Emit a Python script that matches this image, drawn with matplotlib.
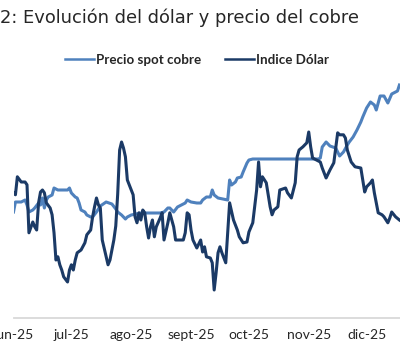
import matplotlib
matplotlib.use("Agg")
import matplotlib.pyplot as plt
import pandas as pd
from matplotlib.lines import Line2D

LIGHT, DARK = "#4F81BD", "#1B3A66"

# Indice Dolar (DXY)
dollar_dates = [
    "2025-06-01", "2025-06-02", "2025-06-03", "2025-06-05", "2025-06-07", "2025-06-08",
    "2025-06-09", "2025-06-11", "2025-06-12", "2025-06-13", "2025-06-14", "2025-06-15",
    "2025-06-16", "2025-06-17", "2025-06-18", "2025-06-20", "2025-06-21", "2025-06-22",
    "2025-06-23", "2025-06-24", "2025-06-25", "2025-06-26", "2025-06-27", "2025-06-29",
    "2025-06-30", "2025-07-01", "2025-07-02", "2025-07-03", "2025-07-04", "2025-07-06",
    "2025-07-08", "2025-07-09", "2025-07-11", "2025-07-12", "2025-07-13", "2025-07-14",
    "2025-07-15", "2025-07-16", "2025-07-17", "2025-07-19", "2025-07-20", "2025-07-21",
    "2025-07-23", "2025-07-24", "2025-07-25", "2025-07-26", "2025-07-27", "2025-07-28",
    "2025-07-29", "2025-07-30", "2025-08-01", "2025-08-02", "2025-08-03", "2025-08-04",
    "2025-08-05", "2025-08-06", "2025-08-07", "2025-08-08", "2025-08-09", "2025-08-10",
    "2025-08-11", "2025-08-12", "2025-08-13", "2025-08-14", "2025-08-16", "2025-08-17",
    "2025-08-18", "2025-08-20", "2025-08-21", "2025-08-23", "2025-08-24", "2025-08-28",
    "2025-08-29", "2025-08-30", "2025-08-31", "2025-09-01", "2025-09-02", "2025-09-04",
    "2025-09-06", "2025-09-07", "2025-09-08", "2025-09-09", "2025-09-11", "2025-09-12",
    "2025-09-13", "2025-09-14", "2025-09-15", "2025-09-16", "2025-09-17", "2025-09-19",
    "2025-09-21", "2025-09-23", "2025-09-25", "2025-09-26", "2025-09-28", "2025-09-30",
    "2025-10-01", "2025-10-03", "2025-10-05", "2025-10-06", "2025-10-07", "2025-10-08",
    "2025-10-10", "2025-10-12", "2025-10-13", "2025-10-14", "2025-10-16", "2025-10-17",
    "2025-10-20", "2025-10-21", "2025-10-23", "2025-10-25", "2025-10-26", "2025-10-27",
    "2025-10-29", "2025-10-31", "2025-11-01", "2025-11-02", "2025-11-03", "2025-11-05",
    "2025-11-07", "2025-11-08", "2025-11-10", "2025-11-12", "2025-11-14", "2025-11-16",
    "2025-11-17", "2025-11-19", "2025-11-20", "2025-11-21", "2025-11-23", "2025-11-25",
    "2025-11-28", "2025-11-29", "2025-11-30", "2025-12-01", "2025-12-03", "2025-12-04",
    "2025-12-05", "2025-12-07", "2025-12-09", "2025-12-10", "2025-12-12", "2025-12-13",
    "2025-12-14", "2025-12-16", "2025-12-18",
]
dollar_vals = [
    98.63, 98.58, 99.03, 98.90, 98.90, 98.83,
    97.63, 97.90, 97.78, 97.70, 98.38, 98.65,
    98.70, 98.63, 98.38, 98.25, 98.08, 97.63,
    96.95, 97.03, 96.83, 96.70, 96.53, 96.40,
    96.70, 96.83, 96.70, 96.95, 97.13, 97.20,
    97.38, 97.58, 97.70, 98.03, 98.28, 98.50,
    98.33, 98.25, 97.45, 97.03, 96.83, 96.95,
    97.45, 97.80, 98.60, 99.70, 99.90, 99.75,
    99.53, 98.95, 98.70, 98.58, 98.03, 97.88,
    98.13, 97.95, 98.20, 98.13, 97.78, 97.50,
    97.78, 97.95, 97.53, 97.78, 98.00, 98.13,
    97.45, 97.88, 98.13, 97.78, 97.45, 97.45,
    97.63, 98.13, 98.08, 97.70, 97.45, 97.25,
    97.45, 97.15, 97.28, 97.03, 97.00, 96.88,
    96.20, 96.63, 97.13, 97.28, 97.13, 96.88,
    98.38, 97.95, 97.70, 97.53, 97.38, 97.40,
    97.65, 97.88, 98.70, 99.40, 98.78, 99.03,
    98.88, 98.28, 98.08, 98.20, 98.28, 98.70,
    98.75, 98.63, 98.50, 98.88, 99.53, 99.70,
    99.78, 99.88, 100.15, 99.78, 99.50, 99.45,
    99.40, 99.25, 99.00, 99.20, 99.38, 100.13,
    100.08, 100.08, 100.00, 99.70, 99.40, 99.28,
    99.25, 98.95, 98.65, 98.78, 98.88, 98.95,
    98.63, 98.13, 98.08, 98.03, 97.88, 98.00,
    98.15, 98.03, 97.95,
]

# Precio spot cobre (US$/t)
copper_dates = [
    "2025-06-01", "2025-06-02", "2025-06-05", "2025-06-07", "2025-06-08", "2025-06-09",
    "2025-06-11", "2025-06-12", "2025-06-14", "2025-06-15", "2025-06-16", "2025-06-17",
    "2025-06-18", "2025-06-19", "2025-06-21", "2025-06-22", "2025-06-24", "2025-06-29",
    "2025-06-30", "2025-07-01", "2025-07-03", "2025-07-04", "2025-07-05", "2025-07-06",
    "2025-07-08", "2025-07-09", "2025-07-11", "2025-07-12", "2025-07-14", "2025-07-16",
    "2025-07-19", "2025-07-22", "2025-07-24", "2025-07-25", "2025-07-27", "2025-07-29",
    "2025-07-30", "2025-08-01", "2025-08-06", "2025-08-16", "2025-08-18", "2025-08-20",
    "2025-08-21", "2025-08-23", "2025-08-25", "2025-08-27", "2025-08-29", "2025-08-30",
    "2025-09-01", "2025-09-04", "2025-09-06", "2025-09-07", "2025-09-09", "2025-09-11",
    "2025-09-12", "2025-09-13", "2025-09-15", "2025-09-20", "2025-09-21", "2025-09-22",
    "2025-09-24", "2025-09-25", "2025-09-27", "2025-09-28", "2025-09-30", "2025-10-01",
    "2025-10-03", "2025-11-06", "2025-11-07", "2025-11-08", "2025-11-10", "2025-11-12",
    "2025-11-15", "2025-11-17", "2025-11-19", "2025-11-21", "2025-11-22", "2025-11-24",
    "2025-11-26", "2025-11-28", "2025-11-29", "2025-12-01", "2025-12-03", "2025-12-05",
    "2025-12-06", "2025-12-08", "2025-12-10", "2025-12-12", "2025-12-14", "2025-12-17",
    "2025-12-18",
]
copper_vals = [
    9408, 9588, 9588, 9624, 9534, 9408,
    9444, 9480, 9570, 9534, 9660, 9480,
    9624, 9678, 9714, 9840, 9804, 9804,
    9840, 9750, 9678, 9660, 9570, 9444,
    9408, 9354, 9318, 9318, 9408, 9516,
    9588, 9552, 9462, 9408, 9354, 9282,
    9318, 9354, 9390, 9390, 9408, 9480,
    9480, 9408, 9498, 9534, 9570, 9624,
    9588, 9570, 9570, 9624, 9678, 9678,
    9804, 9714, 9660, 9624, 9984, 9894,
    9948, 10020, 10038, 10128, 10290, 10344,
    10362, 10362, 10380, 10578, 10668, 10596,
    10560, 10416, 10488, 10614, 10668, 10758,
    10884, 11028, 11118, 11280, 11388, 11334,
    11244, 11496, 11496, 11370, 11532, 11586,
    11694,
]

month_labels = ["jun-25", "jul-25", "ago-25", "sept-25", "oct-25", "nov-25", "dic-25"]

fig = plt.figure(figsize=(4.0, 3.63), dpi=100)
ax = fig.add_axes([13.5 / 400, 45 / 363, 386.5 / 400, 244 / 363])
ax2 = ax.twinx()

ax.plot(pd.to_datetime(copper_dates), copper_vals, color=LIGHT, lw=2.2,
        solid_joinstyle="round")
ax2.plot(pd.to_datetime(dollar_dates), dollar_vals, color=DARK, lw=2.2,
         solid_joinstyle="round")

ax.set_ylim(7500, 11892)
ax2.set_ylim(95.5, 101.6)
start = pd.Timestamp("2025-06-01")
ax.set_xlim(start, start + pd.Timedelta(days=200.3))

ticks = pd.date_range("2025-06-01", periods=len(month_labels), freq="MS")
ax.set_xticks(ticks)
ax.set_xticklabels(month_labels, fontfamily="Lato", fontsize=10, color="#262626")
ax.tick_params(axis="x", length=0, pad=8)
for a in (ax, ax2):
    a.set_yticks([])
    for s in ("top", "left", "right"):
        a.spines[s].set_visible(False)
ax2.spines["bottom"].set_visible(False)
ax.spines["bottom"].set_color("#d9d9d9")
ax.spines["bottom"].set_linewidth(1.3)

handles = [Line2D([], [], color=LIGHT, lw=1.8), Line2D([], [], color=DARK, lw=1.8)]
fig.legend(handles, ["Precio spot cobre", "Indice Dólar"], loc="center",
           bbox_to_anchor=(197 / 400, 1 - 60 / 363), ncol=2, frameon=False,
           prop=dict(family="Lato", weight="bold", size=9.6), handlelength=2.2,
           handletextpad=0.15, columnspacing=1.8, labelcolor="#262626")

fig.text(0.0, 1 - 18 / 363, "2: Evolución del dólar y precio del cobre",
         fontsize=12.9, ha="left", va="center", color="#262626")

fig.savefig("out.png", dpi=100)
